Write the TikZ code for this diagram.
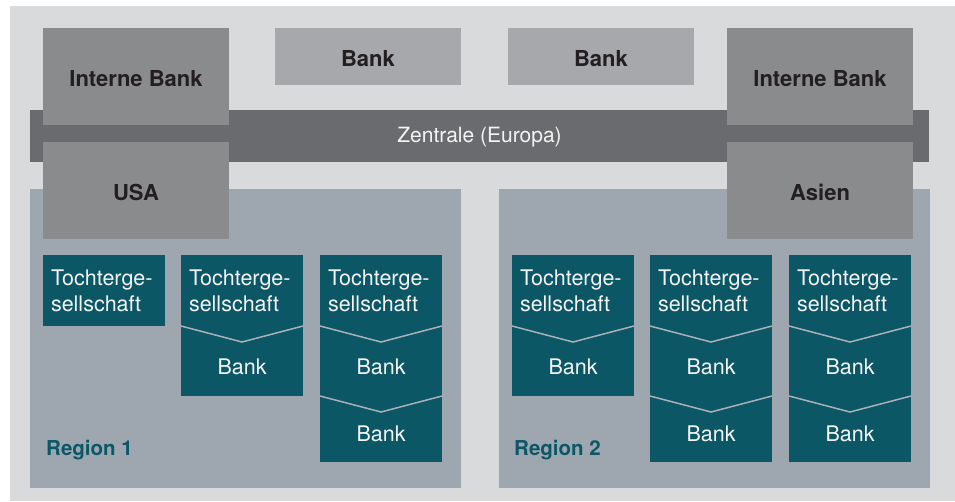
\documentclass[tikz,border=0pt]{standalone}
\usepackage{fontspec}
\setmainfont{TeX Gyre Heros}

\definecolor{bglight}{HTML}{D9DADC}
\definecolor{banktop}{HTML}{A7A8AB}
\definecolor{greymid}{HTML}{8A8B8D}
\definecolor{bardark}{HTML}{6A6B6E}
\definecolor{regionfill}{HTML}{9EA7AF}
\definecolor{tealbox}{HTML}{0B5766}
\definecolor{vlinecol}{HTML}{A9B1B6}
\definecolor{darktext}{HTML}{231F20}
\definecolor{lighttext}{HTML}{F4F4F4}

\tikzset{
	box/.style={rectangle,inner sep=0pt,outer sep=0pt},
	topbank/.style={box,fill=banktop,text=darktext,font=\bfseries\fontsize{22}{26}\selectfont,minimum width=186pt,minimum height=57pt,text height=20pt,text depth=0pt},
	greybox/.style={box,fill=greymid,text=darktext,font=\bfseries\fontsize{22}{26}\selectfont,minimum width=186pt,minimum height=97pt,text height=20pt,text depth=0pt},
	zentrale/.style={box,fill=bardark,text=lighttext,font=\fontsize{21}{26}\selectfont,minimum width=899pt,minimum height=52pt,text height=17.5pt},
	region/.style={box,fill=regionfill,minimum width=431pt,minimum height=299pt},
	tochter/.style={box,fill=tealbox,text=lighttext,font=\fontsize{21.5}{26}\selectfont,minimum width=122pt,minimum height=71pt,text width=106pt,inner xsep=8pt,align=left},
	bankone/.style={box,fill=tealbox,text=lighttext,font=\fontsize{21.5}{26}\selectfont,minimum width=122pt,minimum height=70pt,text height=26.5pt,text depth=0pt},
	banktwo/.style={bankone,minimum height=66pt,text height=25pt},
	vline/.style={draw=vlinecol,line width=1.5pt},
	reglabel/.style={text=tealbox,font=\bfseries\fontsize{20.5}{24}\selectfont,inner sep=0pt,anchor=base west}
}

\begin{document}
\begin{tikzpicture}[x=1pt,y=-1pt]
	\useasboundingbox (0,0) rectangle (955,501);
	\fill[bglight] (10,6) rectangle (955,501);
	
	%REGIONS
	\node[region] (reg1) at (245.5,338.5) {};
	\node[region] (reg2) at (714.5,338.5) {};
	
	%ZENTRALE AND BANKS
	\node[zentrale] (zen) at (479.5,136) {Zentrale (Europa)};
	\node[topbank] (bank1) at (368,56.5) {Bank};
	\node[topbank] (bank2) at (601,56.5) {Bank};
	\node[greybox] (ibl) at (136,76.5) {Interne Bank};
	\node[greybox] (usa) at (136,190.5) {USA};
	\node[greybox] (ibr) at (820,76.5) {Interne Bank};
	\node[greybox] (asien) at (820,190.5) {Asien};
	
	%REGION 1
	\node[tochter] (t1) at (104,290.5) {Tochterge-\\sellschaft};
	\node[tochter] (t2) at (242,290.5) {Tochterge-\\sellschaft};
	\node[bankone] (b2) at (242,361) {Bank};
	\node[tochter] (t3) at (381,290.5) {Tochterge-\\sellschaft};
	\node[bankone] (b3) at (381,361) {Bank};
	\node[banktwo] (bb3) at (381,429) {Bank};
	\node[reglabel] (lab1) at (46,455) {Region 1};
	
	%REGION 2
	\node[tochter] (t4) at (573,290.5) {Tochterge-\\sellschaft};
	\node[bankone] (b4) at (573,361) {Bank};
	\node[tochter] (t5) at (711,290.5) {Tochterge-\\sellschaft};
	\node[bankone] (b5) at (711,361) {Bank};
	\node[banktwo] (bb5) at (711,429) {Bank};
	\node[tochter] (t6) at (850,290.5) {Tochterge-\\sellschaft};
	\node[bankone] (b6) at (850,361) {Bank};
	\node[banktwo] (bb6) at (850,429) {Bank};
	\node[reglabel] (lab2) at (514,455) {Region 2};
	
	%CHEVRONS
	\foreach \n in {b2,b3,bb3,b4,b5,bb5,b6,bb6}
		\draw[vline] (\n.north west) -- ++(61,16) -- (\n.north east);
	
\end{tikzpicture}
\end{document}
